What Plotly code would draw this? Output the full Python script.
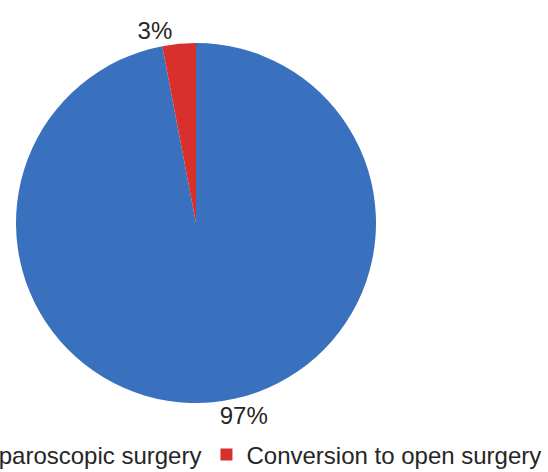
import plotly.graph_objects as go

categories = ["Laparoscopic surgery", "Conversion to open surgery"]
values = [97, 3]
colors = ["#3A71BE", "#D8302C"]

SHIFT = 80
W = 548 + SHIFT
H = 472 + 40

cx, cy, r = 196 + SHIFT, 223, 180

fig = go.Figure(go.Pie(
    labels=categories,
    values=values,
    sort=False,
    direction="clockwise",
    rotation=0,
    marker=dict(colors=colors, line=dict(width=0)),
    textinfo="percent",
    texttemplate="%{percent:.0%}",
    textposition="outside",
    outsidetextfont=dict(family="Liberation Sans, Arial", size=24, color="#262626"),
    domain=dict(x=[(cx - r) / W, (cx + r) / W], y=[(H - cy - r) / H, (H - cy + r) / H]),
    hoverinfo="label+percent",
))

fig.update_layout(
    width=W,
    height=H,
    margin=dict(l=0, r=0, t=0, b=0),
    paper_bgcolor="white",
    plot_bgcolor="white",
    font=dict(family="Liberation Sans, Arial", size=24, color="#262626"),
    showlegend=True,
    legend=dict(
        orientation="h",
        x=12 / W,
        xanchor="left",
        y=(H - 455) / H,
        yanchor="middle",
        font=dict(family="Liberation Sans, Arial", size=24, color="#262626"),
        bgcolor="rgba(0,0,0,0)",
        itemwidth=30,
    ),
)

post = (
    "document.body.style.margin='0';"
    "document.body.style.overflow='hidden';"
    "var gd=document.getElementById('{plot_id}');"
    "gd.style.marginLeft='-%dpx';" % SHIFT
)

fig.write_html("out.html", post_script=post, config={"displayModeBar": False})
